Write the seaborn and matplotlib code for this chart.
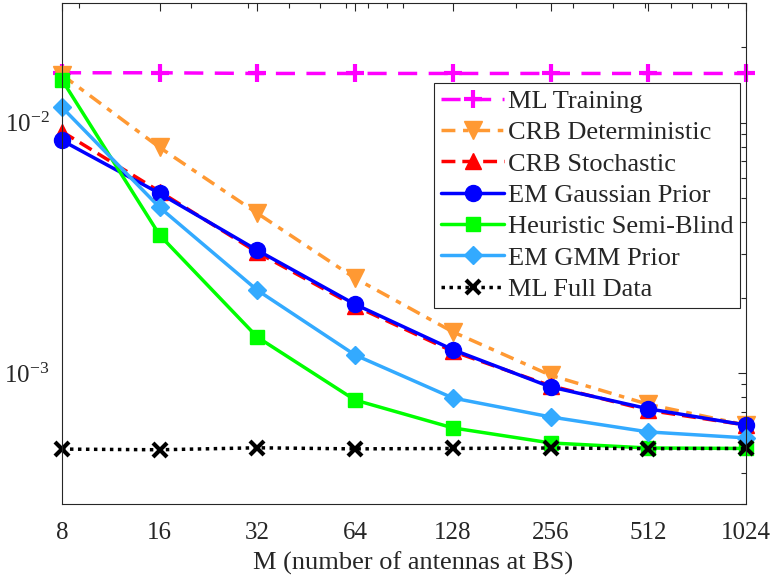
import numpy as np
import pandas as pd
import matplotlib
matplotlib.use("Agg")
import matplotlib.pyplot as plt
import seaborn as sns
from matplotlib.ticker import FixedLocator, LogLocator, NullFormatter, FixedFormatter

# Number of BS antennas
antennas = [8, 16, 32, 64, 128, 256, 512, 1024]

# MSE per estimator
ml_training = [0.0158, 0.0158, 0.0157, 0.0157, 0.0157, 0.0157, 0.0157, 0.0157]
crb_deterministic = [0.0155, 0.00795, 0.00434, 0.00239, 0.00146, 0.00098, 0.00075, 0.00062]
crb_stochastic = [0.0092, 0.0053, 0.00303, 0.00185, 0.00122, 0.00089, 0.00071, 0.00062]
em_gaussian = [0.00848, 0.00521, 0.00309, 0.00188, 0.00124, 0.00088, 0.00072, 0.00062]
heuristic_semi_blind = [0.0148, 0.00355, 0.00139, 0.00078, 0.000604, 0.000526, 0.000502, 0.0005]
em_gmm = [0.0115, 0.00458, 0.00214, 0.00118, 0.000795, 0.000668, 0.000582, 0.000551]
ml_full_data = [0.000497, 0.000494, 0.000503, 0.000498, 0.0005, 0.000502, 0.000499, 0.0005]

x_tick_labels = ["8", "16", "32", "64", "128", "256", "512", "1024"]
y_ticks = [1e-3, 1e-2]
y_tick_labels = [r"$\mathregular{10^{-3}}$", r"$\mathregular{10^{-2}}$"]

sns.set_theme(style="white")
plt.rcParams["font.family"] = ["Liberation Serif", "DejaVu Serif"]
plt.rcParams["mathtext.fontset"] = "custom"
plt.rcParams["mathtext.rm"] = "Liberation Serif"

axis_color = "#262626"

fig = plt.figure(figsize=(7.73, 5.79), dpi=100)
ax = fig.add_axes([0.0802, 0.1295, 0.8848, 0.8653])

series = [
    ("ML Training", ml_training, "#FF00FF", "+", (5.5, 3.3), 13, 3.0),
    ("CRB Deterministic", crb_deterministic, "#FF9933", "v", (4.0, 2.2, 1.6, 2.2), 12.5, 1.0),
    ("CRB Stochastic", crb_stochastic, "#FF0000", "^", (4.0, 2.0), 11.5, 1.0),
    ("EM Gaussian Prior", em_gaussian, "#0000FF", "o", None, 11.5, 1.0),
    ("Heuristic Semi-Blind", heuristic_semi_blind, "#00FF00", "s", None, 10.5, 1.0),
    ("EM GMM Prior", em_gmm, "#33AAFF", "D", None, 9, 1.0),
    ("ML Full Data", ml_full_data, "#000000", "x", (1.0, 1.3), 9.5, 3.0),
]

for name, vals, color, marker, dashes, ms, mew in series:
    df = pd.DataFrame({"M": antennas, "MSE": vals})
    ls = "-" if dashes is None else (0, dashes)
    sns.lineplot(data=df, x="M", y="MSE", ax=ax, color=color, marker=marker,
                 linestyle=ls, linewidth=2.5, markersize=ms,
                 markeredgecolor=color, markerfacecolor=color,
                 markeredgewidth=mew, label=name, clip_on=False)

ax.set_xscale("log")
ax.set_yscale("log")
ax.set_xlim(8, 1024)
ax.set_ylim(3e-4, 3e-2)

ax.xaxis.set_major_locator(FixedLocator(antennas))
ax.xaxis.set_major_formatter(FixedFormatter(x_tick_labels))
ax.xaxis.set_minor_locator(LogLocator(base=10, subs=np.arange(2, 10)))
ax.xaxis.set_minor_formatter(NullFormatter())
ax.yaxis.set_major_locator(FixedLocator(y_ticks))
ax.yaxis.set_major_formatter(FixedFormatter(y_tick_labels))
ax.yaxis.set_minor_locator(LogLocator(base=10, subs=np.arange(2, 10)))
ax.yaxis.set_minor_formatter(NullFormatter())

ax.tick_params(which="both", direction="in", top=True, right=True,
               color=axis_color, width=0.8)
ax.tick_params(axis="x", which="major", length=6, labelsize=18,
               labelcolor=axis_color, pad=13)
ax.tick_params(axis="y", which="major", length=6, labelsize=18,
               labelcolor=axis_color, pad=9)
ax.tick_params(which="minor", length=3.5)
for sp in ax.spines.values():
    sp.set_color(axis_color)
    sp.set_linewidth(0.8)

ax.set_xlabel("M (number of antennas at BS)", fontsize=19, color=axis_color)
ax.xaxis.set_label_coords(0.513, -0.095)
ax.set_ylabel("")
ax.grid(False)

leg = ax.legend(loc="upper right", bbox_to_anchor=(0.992, 0.841), fontsize=19,
                frameon=True, fancybox=False, framealpha=1, edgecolor=axis_color,
                handlelength=2.4, handletextpad=0.15, labelspacing=0.3,
                borderpad=0.25, borderaxespad=0.0)
leg.get_frame().set_linewidth(0.8)

fig.savefig("out.png", dpi=100)
